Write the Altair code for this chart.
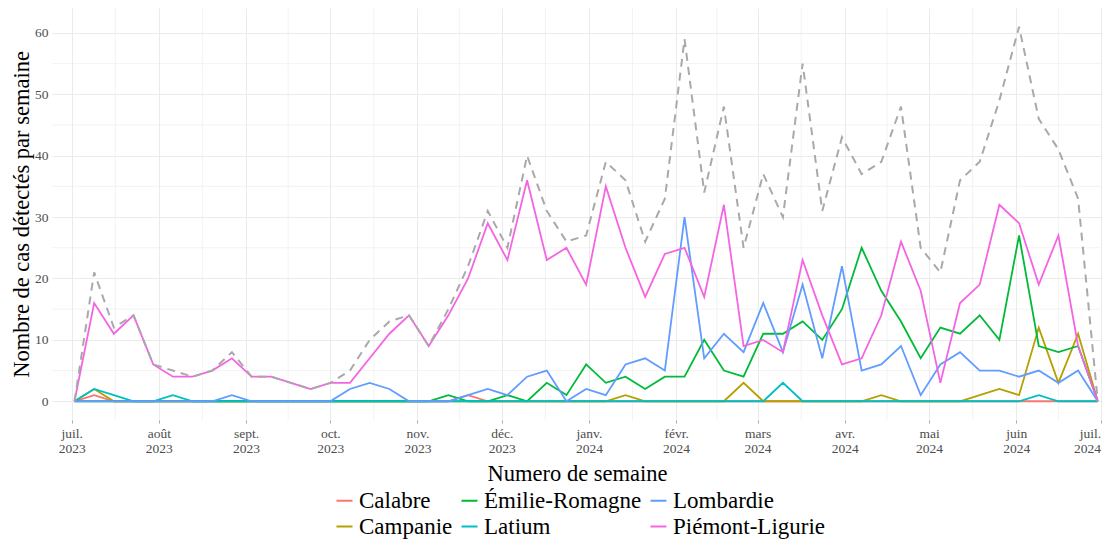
import altair as alt
import pandas as pd

# ---------------- data ----------------
FIRST_WEEK = "2023-07-02"
N_WEEKS = 53

REGIONS = ["Calabre", "Campanie", "Émilie-Romagne", "Latium", "Lombardie", "Piémont-Ligurie"]
REGION_COLORS = ["#F8766D", "#B79F00", "#00BA38", "#00BFC4", "#619CFF", "#F564E3"]

calabre = [0, 1, 0, 0, 0, 0, 0, 0, 0, 0,
           0, 0, 0, 0, 0, 0, 0, 0, 0, 0,
           1, 0, 0, 0, 0, 0, 0, 0, 0, 0,
           0, 0, 0, 0, 0, 0, 0, 0, 0, 0,
           0, 0, 0, 0, 0, 0, 0, 0, 0, 0,
           0, 0, 0]
campanie = [0, 2, 0, 0, 0, 0, 0, 0, 0, 0,
            0, 0, 0, 0, 0, 0, 0, 0, 0, 0,
            0, 0, 0, 0, 0, 0, 0, 0, 1, 0,
            0, 0, 0, 0, 3, 0, 0, 0, 0, 0,
            0, 1, 0, 0, 0, 0, 1, 2, 1, 12,
            3, 11, 0]
emilie = [0, 0, 0, 0, 0, 0, 0, 0, 0, 0,
          0, 0, 0, 0, 0, 0, 0, 0, 0, 1,
          0, 0, 1, 0, 3, 1, 6, 3, 4, 2,
          4, 4, 10, 5, 4, 11, 11, 13, 10, 15,
          25, 18, 13, 7, 12, 11, 14, 10, 27, 9,
          8, 9, 0]
latium = [0, 2, 1, 0, 0, 1, 0, 0, 0, 0,
          0, 0, 0, 0, 0, 0, 0, 0, 0, 0,
          0, 0, 0, 0, 0, 0, 0, 0, 0, 0,
          0, 0, 0, 0, 0, 0, 3, 0, 0, 0,
          0, 0, 0, 0, 0, 0, 0, 0, 0, 1,
          0, 0, 0]
lombardie = [0, 0, 0, 0, 0, 0, 0, 0, 1, 0,
             0, 0, 0, 0, 2, 3, 2, 0, 0, 0,
             1, 2, 1, 4, 5, 0, 2, 1, 6, 7,
             5, 30, 7, 11, 8, 16, 8, 19, 7, 22,
             5, 6, 9, 1, 6, 8, 5, 5, 4, 5,
             3, 5, 0]
piemont = [0, 16, 11, 14, 6, 4, 4, 5, 7, 4,
           4, 3, 2, 3, 3, 7, 11, 14, 9, 14,
           20, 29, 23, 36, 23, 25, 19, 35, 25, 17,
           24, 25, 17, 32, 9, 10, 8, 23, 14, 6,
           7, 14, 26, 18, 3, 16, 19, 32, 29, 19,
           27, 9, 0]
total = [0, 21, 12, 14, 6, 5, 4, 5, 8, 4,
         4, 3, 2, 3, 5, 10, 13, 14, 9, 15,
         22, 31, 25, 40, 31, 26, 27, 39, 36, 26,
         33, 59, 34, 48, 25, 37, 30, 55, 31, 43,
         37, 39, 48, 25, 21, 36, 39, 49, 61, 46,
         41, 33, 0]

MONTHS_FR = ["janv.", "févr.", "mars", "avr.", "mai", "juin",
             "juil.", "août", "sept.", "oct.", "nov.", "déc."]
MAJOR_MONTHS = [(2023, m) for m in range(7, 13)] + [(2024, m) for m in range(1, 8)]
MINOR_X = ["2023-07-16T12:00:00", "2023-08-16T12:00:00", "2023-09-16T00:00:00",
           "2023-10-16T12:00:00", "2023-11-16T00:00:00", "2023-12-16T12:00:00",
           "2024-01-16T12:00:00", "2024-02-15T12:00:00", "2024-03-16T12:00:00",
           "2024-04-16T00:00:00", "2024-05-16T12:00:00", "2024-06-16T00:00:00"]
Y_TICKS = [0, 10, 20, 30, 40, 50, 60]
MINOR_Y = [5, 15, 25, 35, 45, 55]

# ---------------- tables ----------------
dates = [d.strftime("%Y-%m-%dT00:00:00")
         for d in pd.date_range(FIRST_WEEK, periods=N_WEEKS, freq="7D")]
series = dict(zip(REGIONS, [calabre, campanie, emilie, latium, lombardie, piemont]))
rows = []
for r in REGIONS:
    for d, v in zip(dates, series[r]):
        rows.append({"date": d, "region": r, "value": v})
df = pd.DataFrame(rows)
df_total = pd.DataFrame({"date": dates, "value": total})
df_minor_x = pd.DataFrame({"date": MINOR_X})
df_minor_y = pd.DataFrame({"value": MINOR_Y})

# ---------------- style ----------------
W, H = 1050, 412
FONT = "Liberation Serif"
GRID = "#EBEBEB"

months_js = "[" + ",".join("'" + m + "'" for m in MONTHS_FR) + "]"
label_expr = "[" + months_js + "[month(datum.value)], '' + year(datum.value)]"

X = alt.X(
    "date:T",
    title="Numero de semaine",
    scale=alt.Scale(domain=[alt.DateTime(year=2023, month=6, date=24),
                            alt.DateTime(year=2024, month=7, date=1, hours=12)]),
    axis=alt.Axis(
        values=[alt.DateTime(year=y, month=m, date=1) for y, m in MAJOR_MONTHS],
        labelExpr=label_expr,
        grid=True, gridColor=GRID, gridWidth=1,
        domain=False, ticks=True, tickSize=3, tickColor="#AAAAAA", tickWidth=1,
        labelFont=FONT, labelFontSize=13.5, labelColor="#4D4D4D",
        labelLineHeight=15, labelPadding=3, labelBaseline="top",
        labelOverlap=False, labelFlush=4,
        titleFont=FONT, titleFontSize=22.5, titleFontWeight="normal", titleColor="black",
        titleX=525, titleY=60, titleBaseline="alphabetic", titleAlign="center",
    ),
)
Y = alt.Y(
    "value:Q",
    title="Nombre de cas détectés par semaine",
    scale=alt.Scale(domain=[-3.05, 64.05], nice=False, zero=False),
    axis=alt.Axis(
        values=Y_TICKS,
        grid=True, gridColor=GRID, gridWidth=1,
        domain=False, ticks=False, labelPadding=4,
        labelFont=FONT, labelFontSize=13.5, labelColor="#4D4D4D",
        titleFont=FONT, titleFontSize=22.5, titleFontWeight="normal", titleColor="black",
        titleX=-24, titleY=206, titleAngle=270, titleBaseline="alphabetic", titleAlign="center",
    ),
)
COLOR = alt.Color(
    "region:N",
    scale=alt.Scale(domain=REGIONS, range=REGION_COLORS),
    legend=alt.Legend(
        title=None, orient="none", legendX=281, legendY=481, columns=3,
        direction="vertical",
        symbolType="stroke", symbolSize=256, symbolStrokeWidth=2,
        labelFont=FONT, labelFontSize=23, labelColor="black", labelOffset=3,
        rowPadding=2, columnPadding=4, padding=0,
    ),
)

minor_x = alt.Chart(df_minor_x).mark_rule(color=GRID, strokeWidth=0.6).encode(
    x=X, y=alt.value(0), y2=alt.value(H))
minor_y = alt.Chart(df_minor_y).mark_rule(color=GRID, strokeWidth=0.6).encode(
    y=Y, x=alt.value(0), x2=alt.value(W))

region_layers = [
    alt.Chart(df).transform_filter(alt.datum.region == r)
    .mark_line(strokeWidth=1.8)
    .encode(x=X, y=Y, color=COLOR)
    for r in REGIONS
]
total_layer = alt.Chart(df_total).mark_line(
    color="#A9A9A9", strokeDash=[8, 6], strokeWidth=2
).encode(x=X, y=Y)

chart = alt.layer(minor_x, minor_y, *region_layers, total_layer).properties(
    width=W, height=H,
    autosize=alt.AutoSizeParams(type="none"),
    padding={"left": 44, "top": 0, "right": 1, "bottom": 119},
).configure(font=FONT).configure_view(stroke=None).configure_legend(
    labelFont=FONT, labelFontSize=23, labelColor="black"
)

chart.save("out.html", embed_options={"renderer": "svg", "actions": False})
